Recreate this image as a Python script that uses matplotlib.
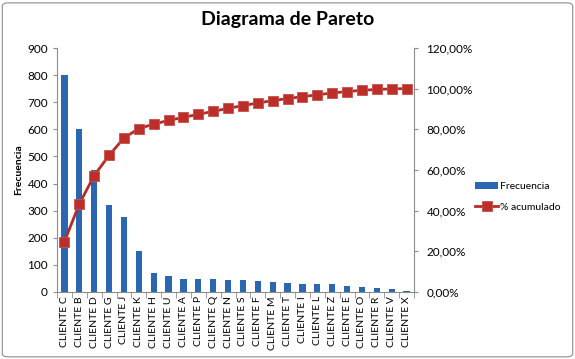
import matplotlib.pyplot as plt
from matplotlib.patches import FancyBboxPatch
import numpy as np

clientes = ['CLIENTE C', 'CLIENTE B', 'CLIENTE D', 'CLIENTE G', 'CLIENTE J', 'CLIENTE K',
            'CLIENTE H', 'CLIENTE U', 'CLIENTE A', 'CLIENTE P', 'CLIENTE Q', 'CLIENTE N',
            'CLIENTE S', 'CLIENTE F', 'CLIENTE M', 'CLIENTE T', 'CLIENTE I', 'CLIENTE L',
            'CLIENTE Z', 'CLIENTE E', 'CLIENTE O', 'CLIENTE R', 'CLIENTE V', 'CLIENTE X']
frecuencia = [800, 600, 450, 322, 275, 150, 70, 60, 48, 48, 48, 46,
              46, 40, 38, 33, 30, 29, 29, 23, 20, 13, 10, 3]
left_ticks = [0, 100, 200, 300, 400, 500, 600, 700, 800, 900]
right_ticks = [0, 20, 40, 60, 80, 100, 120]

acumulado = np.cumsum(frecuencia) / sum(frecuencia) * 100

plt.rcParams['font.family'] = ['Lato', 'DejaVu Sans']

fig = plt.figure(figsize=(5.75, 3.59), dpi=100)
fig.patches.append(FancyBboxPatch((0.004, 0.006), 0.992, 0.986, boxstyle='round,pad=0,rounding_size=0.01',
                                  transform=fig.transFigure, fill=False, edgecolor='#8c8c8c', linewidth=0.8))
ax = fig.add_axes([57/575, 1 - 292/359, 357/575, 244/359])
x = np.arange(len(clientes))
ax.bar(x, frecuencia, width=0.42, color='#2B67B0', label='Frecuencia', zorder=2)
ax.set_xlim(-0.5, len(clientes) - 0.5)
ax.set_ylim(0, 900)
ax.set_yticks(left_ticks)
ax.set_xticks(x)
ax.set_xticklabels(clientes, rotation=90, fontsize=7.5)
ax.set_xticks(np.arange(-0.5, len(clientes)), minor=True)
ax.tick_params(axis='x', which='major', length=0, pad=3)
ax.tick_params(axis='x', which='minor', length=4, color='#8c8c8c')
ax.tick_params(axis='y', labelsize=8.5, length=3, color='#8c8c8c', direction='out')
ax.set_ylabel('Frecuencia', fontsize=7.5, fontweight='bold', labelpad=3)
for s in ['top', 'right']:
    ax.spines[s].set_visible(False)
for s in ['left', 'bottom']:
    ax.spines[s].set_color('#8c8c8c')

ax2 = ax.twinx()
ax2.plot(x, acumulado, color='#B22D26', linewidth=2, marker='s', markersize=6.5,
         markerfacecolor='#BB2E29', markeredgecolor='#C9504A', markeredgewidth=0.6,
         label='% acumulado', zorder=3)
ax2.set_ylim(0, 120)
ax2.set_yticks(right_ticks)
ax2.set_yticklabels(['{:.2f}%'.format(v).replace('.', ',') for v in right_ticks])
ax2.tick_params(axis='y', labelsize=8.5, length=3, color='#8c8c8c', direction='out', pad=6)
for s in ['top', 'left', 'bottom']:
    ax2.spines[s].set_visible(False)
ax2.spines['right'].set_color('#8c8c8c')

h1, l1 = ax.get_legend_handles_labels()
h2, l2 = ax2.get_legend_handles_labels()
fig.legend(h1 + h2, l1 + l2, loc='center left', bbox_to_anchor=(466/575, 1 - 197/359),
           frameon=False, fontsize=7.5, handlelength=2.2, handletextpad=0.2, labelspacing=1.1)

fig.suptitle('Diagrama de Pareto', x=0.5, y=1 - 20/359, va='center', fontsize=14, fontweight='bold')

plt.savefig('out.png', dpi=100)
